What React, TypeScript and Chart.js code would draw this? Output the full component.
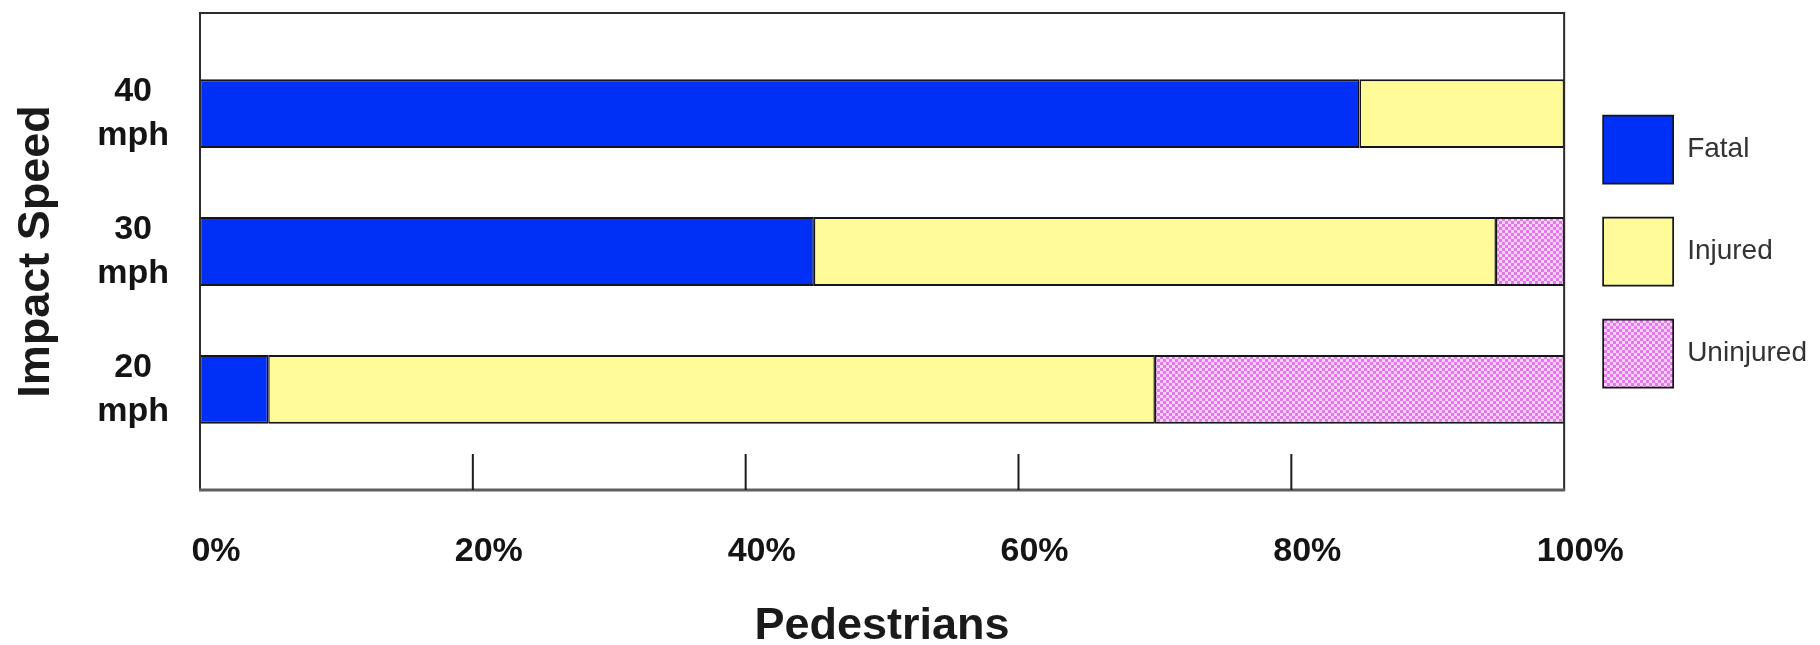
import React, { useEffect, useRef } from 'react';
import { Chart, registerables } from 'chart.js';

Chart.register(...registerables);

// ---- data ----
const categories = ['40 mph', '30 mph', '20 mph'];
const categoryPositions = [1, 2, 3];
const seriesNames = ['Fatal', 'Injured', 'Uninjured'];
const fatal = [85, 45, 5];
const injured = [15, 50, 65];
const uninjured = [0, 5, 30];
const xTickValues = [0, 20, 40, 60, 80, 100];
const xTickLabels = ['0%', '20%', '40%', '60%', '80%', '100%'];
const xAxisTitle = 'Pedestrians';
const yAxisTitle = 'Impact Speed';

const FONT = '"Liberation Sans", Arial, Helvetica, sans-serif';

const framePlugin = {
  id: 'frameAndTicks',
  afterLayout(chart: any) {
    if (chart.legend) {
      chart.legend.left += 5;
      chart.legend.right += 5;
    }
  },
  afterDatasetsDraw(chart: any) {
    const { ctx, chartArea: a, scales } = chart;
    ctx.save();
    ctx.strokeStyle = '#2b2b2b';
    ctx.lineWidth = 2;
    ctx.strokeRect(a.left, a.top, a.right - a.left, a.bottom - a.top);
    ctx.strokeStyle = '#5e5e5e';
    ctx.lineWidth = 3;
    ctx.beginPath();
    ctx.moveTo(a.left - 1, a.bottom);
    ctx.lineTo(a.right + 1, a.bottom);
    ctx.stroke();
    const xs = scales.x;
    ctx.strokeStyle = '#1a1a1a';
    ctx.lineWidth = 2;
    xs.ticks.forEach((t: any) => {
      if (t.value > xs.min && t.value < xs.max) {
        const px = xs.getPixelForValue(t.value);
        ctx.beginPath();
        ctx.moveTo(px, a.bottom);
        ctx.lineTo(px, a.bottom - 36);
        ctx.stroke();
      }
    });
    ctx.restore();
  },
};

export default function App() {
  const ref = useRef<HTMLCanvasElement | null>(null);

  useEffect(() => {
    const canvas = ref.current;
    if (!canvas) return;
    const ctx = canvas.getContext('2d')!;

    const pc = document.createElement('canvas');
    pc.width = 6;
    pc.height = 6;
    const p = pc.getContext('2d')!;
    p.fillStyle = '#fbd2fb';
    p.fillRect(0, 0, 6, 6);
    p.fillStyle = '#e07ae6';
    p.fillRect(0, 0, 3, 3);
    p.fillRect(3, 3, 3, 3);
    const pattern = ctx.createPattern(pc, 'repeat');

    const border = { top: 2, bottom: 2, left: 1.5, right: 1.5 };
    const mk = (label: string, values: number[], bg: any) => ({
      label,
      data: values.map((v, i) => ({ x: v, y: categoryPositions[i] })),
      backgroundColor: bg,
      borderColor: '#15151a',
      borderWidth: border,
      borderSkipped: false,
    });

    const chart = new Chart(canvas, {
      type: 'bar',
      data: {
        datasets: [
          mk(seriesNames[0], fatal, '#0030f6'),
          mk(seriesNames[1], injured, '#fffb99'),
          mk(seriesNames[2], uninjured, pattern),
        ] as any,
      },
      options: {
        indexAxis: 'y',
        animation: false,
        responsive: false,
        layout: { padding: { top: 5, left: 0, right: 0, bottom: 0 } },
        datasets: { bar: { barPercentage: 0.5, categoryPercentage: 1 } } as any,
        scales: {
          x: {
            type: 'linear',
            stacked: true,
            min: 0,
            max: 100,
            offset: false,
            afterBuildTicks: (s: any) => {
              s.ticks = xTickValues.map((v) => ({ value: v }));
            },
            afterFit: (s: any) => {
              s.height = 155;
            },
            ticks: {
              callback: (v: any) => xTickLabels[xTickValues.indexOf(Number(v))],
              font: { family: FONT, size: 34, weight: 'bold', lineHeight: 1.2 },
              color: '#141414',
              padding: 41,
              labelOffset: 16,
              maxRotation: 0,
              autoSkip: false,
            },
            grid: { display: false, drawTicks: false },
            border: { display: false },
            title: {
              display: true,
              text: xAxisTitle,
              color: '#1a1a1a',
              font: { family: FONT, size: 45, weight: 'bold', lineHeight: 0.8 },
              padding: { top: 0, bottom: 0 },
            },
          },
          y: {
            type: 'linear',
            stacked: true,
            reverse: true,
            offset: false,
            min: 0.27,
            max: 3.73,
            afterBuildTicks: (s: any) => {
              s.ticks = categoryPositions.map((v) => ({ value: v }));
            },
            afterFit: (s: any) => {
              s.width = 192;
              s.paddingTop = 0;
              s.paddingBottom = 0;
            },
            ticks: {
              callback: (v: any) => {
                const i = categoryPositions.indexOf(Number(v));
                return i >= 0 ? categories[i].split(' ') : '';
              },
              crossAlign: 'center',
              padding: 31,
              font: { family: FONT, size: 34, weight: 'bold', lineHeight: 1.3 },
              color: '#141414',
              autoSkip: false,
            },
            grid: { display: false, drawTicks: false },
            border: { display: false },
            title: {
              display: true,
              text: yAxisTitle,
              color: '#1a1a1a',
              font: { family: FONT, size: 45, weight: 'bold', lineHeight: 1.2 },
              padding: { top: 1.5, bottom: 0 },
            },
          },
        } as any,
        plugins: {
          legend: {
            position: 'right',
            fullSize: false,
            align: 'center',
            labels: {
              boxWidth: 70,
              boxHeight: 68,
              padding: 34,
              color: '#333333',
              font: { family: FONT, size: 28 },
            },
          },
          tooltip: { enabled: false },
        } as any,
      },
      plugins: [framePlugin],
    });

    return () => chart.destroy();
  }, []);

  return (
    <div style={{ width: 1804, height: 637 }}>
      <canvas ref={ref} width={1804} height={637} style={{ display: 'block' }} />
    </div>
  );
}
